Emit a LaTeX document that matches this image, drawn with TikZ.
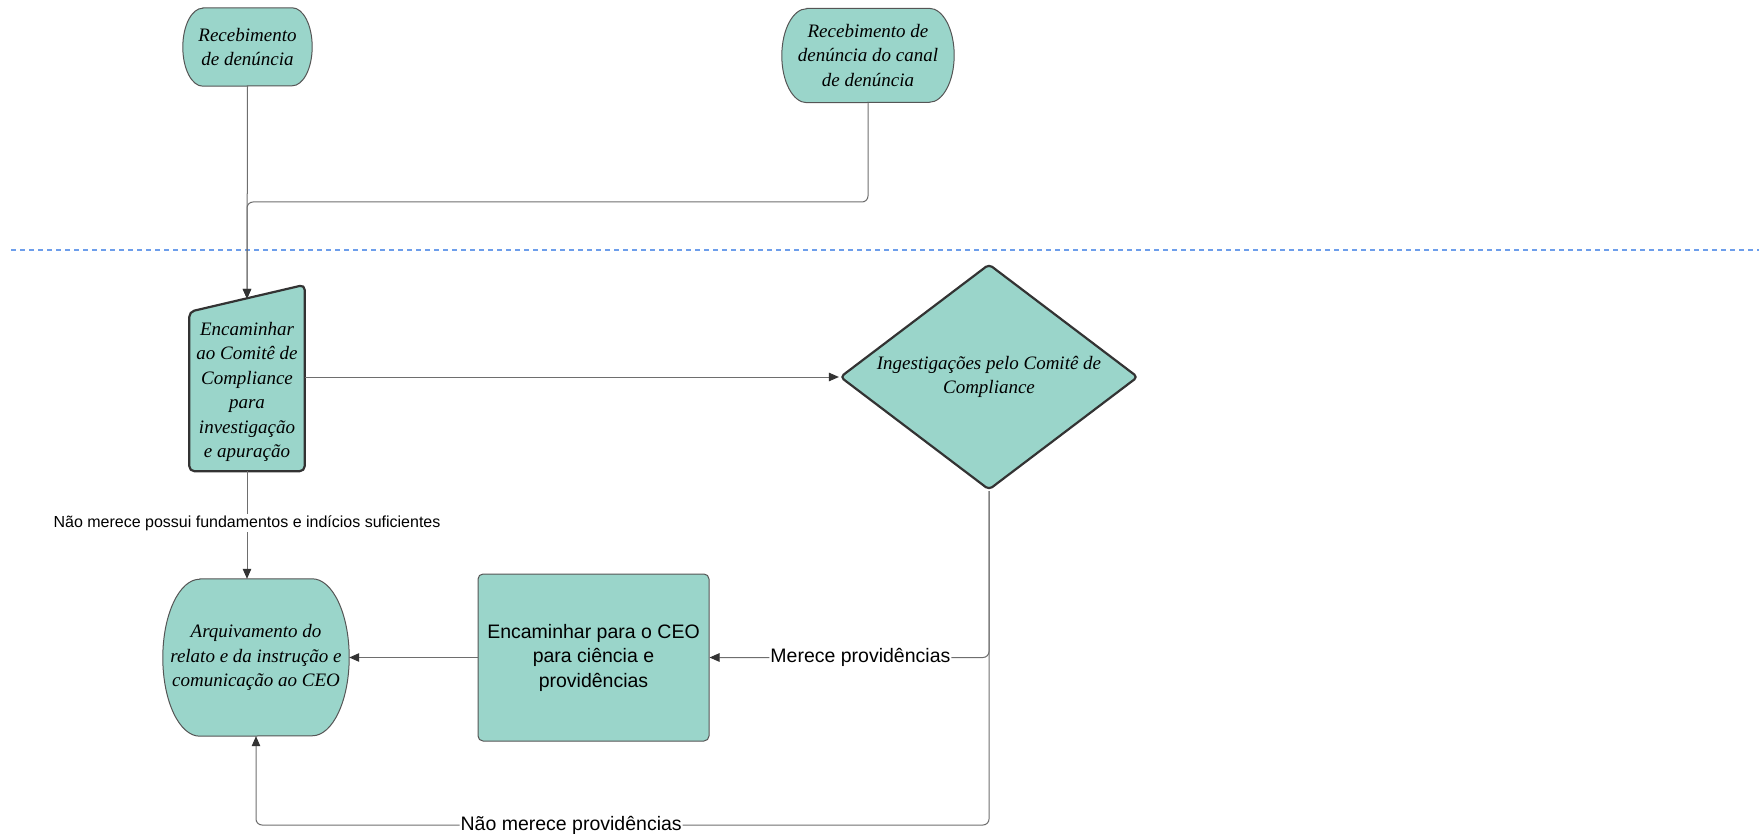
\documentclass[tikz,border=0pt]{standalone}
\usepackage{fontspec}
\setmainfont{Liberation Serif}
\setsansfont{Liberation Sans}
\usetikzlibrary{arrows.meta,shapes.geometric,backgrounds}
\definecolor{boxfill}{HTML}{9AD5CA}
\definecolor{edgec}{HTML}{6E6E6E}
\definecolor{tipc}{HTML}{333333}
\definecolor{bordc}{HTML}{333333}
\definecolor{thinbord}{HTML}{555555}
\definecolor{dashc}{HTML}{6D9EEB}
\newcommand\termshape[3]{%
  \path[thinshape] ([xshift=#2]#1.north west) -- ([xshift=-#2]#1.north east)
    arc[start angle=90,end angle=-90,x radius=#2,y radius=#3]
    -- ([xshift=#2]#1.south west)
    arc[start angle=270,end angle=90,x radius=#2,y radius=#3] -- cycle;}
\begin{document}
\begin{tikzpicture}[x=1pt,y=-1pt,
  serift/.style={font=\fontsize{19}{24.5}\selectfont\itshape, align=center, text=black},
  sanst/.style={font=\sffamily\fontsize{19.5}{24.5}\selectfont, align=center},
  conn/.style={draw=edgec, line width=1pt, -{Triangle[length=10pt,width=8.5pt,color=tipc]}},
  lbl/.style={fill=white, inner sep=1pt, font=\sffamily\fontsize{19.5}{22}\selectfont},
  smalllbl/.style={fill=white, inner sep=1.5pt, font=\sffamily\fontsize{16}{20}\selectfont},
  thinshape/.style={fill=boxfill, draw=thinbord, line width=1pt},
  thickshape/.style={fill=boxfill, draw=bordc, line width=2.2pt, line join=round},
]
\useasboundingbox (0,0) rectangle (1759,834);

% dashed separator
\coordinate (dl) at (11,250);
\coordinate (dr) at (1759,250);
\draw[dashc, line width=2pt, dash pattern=on 5pt off 4pt] (dl) -- (dr);

% nodes
\node[serift, minimum width=129, minimum height=78, inner sep=0] (A) at (247.5,47) {Recebimento\\de denúncia};
\node[serift, minimum width=172, minimum height=94, inner sep=0] (B) at (868,55.5) {Recebimento de\\denúncia do canal\\de denúncia};
\node[serift, minimum width=115, minimum height=172, inner sep=0] (C) at (247,385) {\raisebox{-6.5pt}[\height][\depth]{\begin{tabular}{@{}c@{}}Encaminhar\\ao Comitê de\\Compliance\\para\\investigação\\e apuração\end{tabular}}};
\node[diamond, thickshape, aspect=1.32, minimum width=298, minimum height=226, inner sep=0, rounded corners=4pt, serift] (D) at (989,377) {Ingestigações pelo Comitê de\\Compliance};
\node[serift, minimum width=186, minimum height=157, inner sep=0] (E) at (256,657.5) {Arquivamento do\\relato e da instrução e\\comunicação ao CEO};
\node[sanst, fill=boxfill, draw=thinbord, line width=1pt, rounded corners=5pt, minimum width=231, minimum height=167, inner sep=0] (F) at (593.5,657.5) {Encaminhar para o CEO\\para ciência e\\providências};

\begin{pgfonlayer}{background}
  \termshape{A}{20pt}{39pt}
  \termshape{B}{25pt}{47pt}
  \termshape{E}{37pt}{78.5pt}
  \path[thickshape, rounded corners=5pt] ([yshift=-13pt]C.north west) -- ([yshift=14pt]C.north east) -- (C.south east) -- (C.south west) -- cycle;
\end{pgfonlayer}

% connectors
\coordinate (j) at (0,202);
\coordinate (bot) at (0,825);
\draw[conn] (A.south) -- (C.north);
\draw[conn, rounded corners=6pt] (B.south) -- (B.south |- j) -- (C.north |- j) -- (C.north);
\draw[conn] (C.east |- D.west) -- (D.west);
\draw[conn] (C.south) -- node[smalllbl, pos=0.48] (l1) {Não merece possui fundamentos e indícios suficientes} (C.south |- E.north);
\draw[conn, rounded corners=6pt] (D.south) |- node[lbl, pos=0.73] (l2) {Merece providências} (F.east);
\draw[conn, rounded corners=6pt] (D.south) -- (D.south |- bot) -- node[lbl, pos=0.57] (l3) {Não merece providências} (E.south |- bot) -- (E.south);
\draw[conn] (F.west) -- (E.east);
\end{tikzpicture}
\end{document}
